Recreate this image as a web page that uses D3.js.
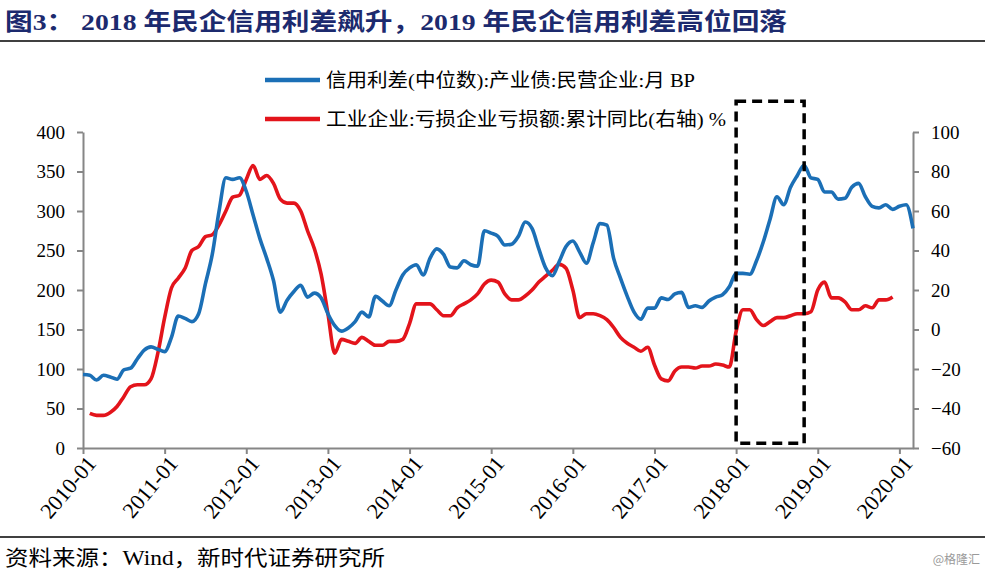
<!DOCTYPE html>
<html><head><meta charset="utf-8">
<script src="https://cdn.jsdelivr.net/npm/d3@7"></script>
<style>
html,body{margin:0;padding:0;background:#fff;}
svg{display:block;}
</style></head>
<body>
<svg id="chart" width="985" height="575"></svg>
<script>
// ---- data ----
const tickLabels = ["2010-01","2011-01","2012-01","2013-01","2014-01","2015-01","2016-01","2017-01","2018-01","2019-01","2020-01"];
const tickIndex = [0,12,24,36,48,60,72,84,96,108,120];
// 信用利差(中位数):产业债:民营企业 (BP), monthly from 2010-01
const spreadValues = [93,92,86,92,90,87,99,101,113,124,128,125,
  122,140,167,164,160,170,208,245,300,342,340,342,
  325,295,265,240,212,172,187,198,206,191,196,190,
  170,155,148,152,160,172,166,192,186,180,200,219,
  228,232,219,240,252,245,229,228,237,232,230,275,
  272,268,257,258,268,286,278,252,228,218,236,255,
  262,248,234,260,284,282,240,215,192,172,163,177,
  177,190,188,195,197,178,180,178,186,191,194,204,
  221,221,220,237,261,290,318,308,330,345,358,342,
  340,324,324,315,316,330,335,318,306,304,308,302,
  306,308,278];
// 工业企业:亏损企业亏损额:累计同比 (%), monthly from 2010-02
const lossStart = 1;
const lossValues = [-42.5,-43.5,-43.5,-42,-39,-34,-29,-28,-28,-25,-12,
  6,21,26,31,40,42,47,48,53,60,67,68,
  76,83,76,78,74,66,64,64,60,50,41,28,
  8,-12,-5,-6,-7,-4,-6,-8,-8,-6,-6,-5,
  3,13,13,13,10,7,7,11,13,15,18,23,
  25,24,18,15,15,17,20,24,27,30,33,31,
  20,6,8,8,7,5,1,-4,-7,-9,-11,-9,
  -18,-25,-26,-21,-19,-19,-19.5,-18.5,-18.5,-17.5,-18,-19,
  -1,10,10,5,2,4,6,6,7,8,8,9,
  20,24,16,16,14,10,10,12,11,15,15,16.5];
const leftTicks = [0,50,100,150,200,250,300,350,400];
const rightTicks = [-60,-40,-20,0,20,40,60,80,100];
const highlightMonths = [96,106];      // 2018-01 .. 2018-11
const highlightLeftValues = [6,439];   // vertical extent on left axis
const titleText = "图3：  2018 年民企信用利差飙升，2019 年民企信用利差高位回落";
const legendNames = ["信用利差(中位数):产业债:民营企业:月 BP","工业企业:亏损企业亏损额:累计同比(右轴) %"];
const sourceText = "资料来源：Wind，新时代证券研究所";
const markText = "@格隆汇";

// ---- layout ----
const svg = d3.select("#chart");
const L = 83, R = 913, T = 132, B = 448;
const x = d3.scaleLinear().domain([0,122]).range([L,R]);
const yL = d3.scaleLinear().domain([0,400]).range([B,T]);
const yR = d3.scaleLinear().domain([-60,100]).range([B,T]);
const axisColor = "#868686";
const blue = "#1b6fb6", red = "#e3141b";
const numFont = "'Liberation Serif','Times New Roman',serif";
const cjkFont = "'Liberation Serif','Noto Sans CJK SC',serif";

// title
svg.append("text").attr("x",5).attr("y",30).attr("font-family",cjkFont)
  .attr("font-weight","bold").attr("font-size",24).attr("fill","#1c2a6e")
  .attr("textLength",782).attr("lengthAdjust","spacingAndGlyphs")
  .text(titleText);
svg.append("line").attr("x1",0).attr("x2",985).attr("y1",41).attr("y2",41)
  .attr("stroke","#000").attr("stroke-width",1.5);

// axes
const gL = svg.append("g").attr("transform",`translate(${L},0)`)
  .call(d3.axisLeft(yL).tickValues(leftTicks).tickSize(6).tickSizeOuter(0).tickPadding(12));
const gR = svg.append("g").attr("transform",`translate(${R},0)`)
  .call(d3.axisRight(yR).tickValues(rightTicks).tickSize(6).tickSizeOuter(0).tickPadding(12));
const gX = svg.append("g").attr("transform",`translate(0,${B})`)
  .call(d3.axisBottom(x).tickValues(tickIndex).tickFormat((d,i)=>tickLabels[i]).tickSize(6).tickSizeOuter(0));
[gL,gR,gX].forEach(g=>{
  g.selectAll("path.domain").attr("stroke",axisColor).attr("stroke-width",2);
  g.selectAll(".tick line").attr("stroke",axisColor).attr("stroke-width",2);
  g.selectAll("text").attr("font-family",numFont).attr("font-size",19).attr("fill","#000");
});
gX.selectAll(".tick text").attr("font-size",22).attr("text-anchor","end")
  .attr("transform","translate(8,11) rotate(-50)").attr("dy","0.35em").attr("y",0).attr("x",0);

// lines
const curve = d3.curveMonotoneX;
const spreadLine = d3.line().x((d,i)=>x(i)).y(d=>yL(d)).curve(curve);
const lossLine = d3.line().x((d,i)=>x(i+lossStart)).y(d=>yR(d)).curve(curve);
svg.append("path").datum(lossValues).attr("d",lossLine).attr("fill","none")
  .attr("stroke",red).attr("stroke-width",3.6).attr("stroke-linejoin","round");
svg.append("path").datum(spreadValues).attr("d",spreadLine).attr("fill","none")
  .attr("stroke",blue).attr("stroke-width",3.6).attr("stroke-linejoin","round");

// highlight box
svg.append("rect")
  .attr("x",x(highlightMonths[0])).attr("y",yL(highlightLeftValues[1]))
  .attr("width",x(highlightMonths[1])-x(highlightMonths[0]))
  .attr("height",yL(highlightLeftValues[0])-yL(highlightLeftValues[1]))
  .attr("fill","none").attr("stroke","#000").attr("stroke-width",3.5)
  .attr("stroke-dasharray","10,6");

// legend
const legColors = [blue, red];
const legLen = [369, 400];
legendNames.forEach((n,i)=>{
  const yy = 80 + i*39;
  svg.append("line").attr("x1",265).attr("x2",320).attr("y1",yy).attr("y2",yy)
    .attr("stroke",legColors[i]).attr("stroke-width",4.5);
  svg.append("text").attr("x",326).attr("y",yy+7).attr("font-family",cjkFont)
    .attr("font-size",19).attr("fill","#000")
    .attr("textLength",legLen[i]).attr("lengthAdjust","spacingAndGlyphs").text(n);
});

// footer
svg.append("line").attr("x1",0).attr("x2",985).attr("y1",537).attr("y2",537)
  .attr("stroke","#000").attr("stroke-width",1.5);
svg.append("text").attr("x",5).attr("y",565).attr("font-family",cjkFont)
  .attr("font-size",21).attr("fill","#000")
  .attr("textLength",380).attr("lengthAdjust","spacingAndGlyphs").text(sourceText);
svg.append("text").attr("x",980).attr("y",564).attr("text-anchor","end")
  .attr("font-family","'Noto Sans CJK SC',sans-serif").attr("font-size",12)
  .attr("fill","#9a9a9a").text(markText);
</script>
</body></html>
